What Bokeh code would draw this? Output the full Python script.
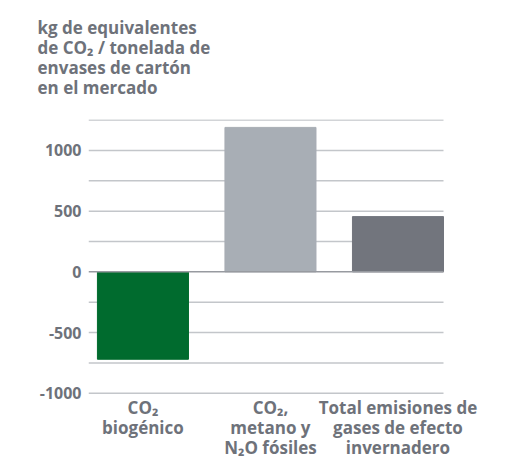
from bokeh.plotting import figure
from bokeh.models import FixedTicker, Range1d, ColumnDataSource, Label
from bokeh.embed import file_html
from bokeh.resources import INLINE

categories = ["CO\u2082\nbiogénico", "CO\u2082,\nmetano y\nN\u2082O fósiles", "Total emisiones de\ngases de efecto\ninvernadero"]
values = [-720, 1190, 455]
colors = ["#006b2e", "#a8aeb5", "#72757d"]
y_ticks = [-1000, -500, 0, 500, 1000]
y_tick_labels = ["-1000", "-500", "0", "500", "1000"]
grid_ticks = [-1000, -750, -500, -250, 250, 500, 750, 1000, 1250]
title_text = "kg de equivalentes\nde CO\u2082 / tonelada de\nenvases de cartón\nen el mercado"

FONT = "Open Sans"
TXT = "#6e727a"

# horizontal extent of the gridded area (in category units)
GRID_X0, GRID_X1 = -0.427, 2.357

xs = list(range(len(categories)))
src = ColumnDataSource(dict(x=xs, top=values, color=colors))

# the frame extends to the right and bottom edges of the canvas so that the
# category labels are not clipped; gridlines are drawn only over the chart area
x_range = Range1d(GRID_X0, 2.851)
y_range = Range1d(-1521, 1255)
p = figure(width=506, height=456, output_backend="svg", toolbar_location=None,
           x_range=x_range, y_range=y_range,
           min_border_left=88, min_border_right=0, min_border_top=119, min_border_bottom=0)
p.outline_line_color = None
p.background_fill_color = "white"
p.border_fill_color = "white"
p.xgrid.visible = False
p.ygrid.visible = False

grid_src = ColumnDataSource(dict(y=grid_ticks,
                                 x0=[GRID_X0] * len(grid_ticks),
                                 x1=[GRID_X1] * len(grid_ticks)))
p.segment(x0="x0", x1="x1", y0="y", y1="y", source=grid_src,
          line_color="#c3c6ca", line_width=1.5)

p.vbar(x="x", top="top", bottom=0, width=0.714, color="color", source=src)

zero_src = ColumnDataSource(dict(y=[0], x0=[GRID_X0], x1=[GRID_X1]))
p.segment(x0="x0", x1="x1", y0="y", y1="y", source=zero_src,
          line_color="#979aa0", line_width=1.5)

# title as a label anchored at the frame's top-left corner (side panel: not clipped)
p.add_layout(Label(x=GRID_X0, y=y_range.end, x_offset=-51, y_offset=104,
                   text=title_text, text_font=FONT, text_font_size="17px",
                   text_font_style="bold", text_color=TXT, text_align="left",
                   text_baseline="top", text_line_height=0.875), "above")

# category labels under the lowest gridline
for xi, cat in zip(xs, categories):
    p.add_layout(Label(x=xi, y=grid_ticks[0], y_offset=-3, text=cat,
                       text_font=FONT, text_font_size="17px", text_font_style="bold",
                       text_color=TXT, text_align="center", text_baseline="top",
                       text_line_height=0.86))

p.xaxis.visible = False

ax = p.yaxis
ax.axis_line_color = None
ax.major_tick_line_color = None
ax.minor_tick_line_color = None
ax.major_tick_out = 0
ax.major_tick_in = 0
ax.minor_tick_out = 0
ax.minor_tick_in = 0
ax.axis_label_standoff = 0
ax.major_label_text_font = FONT
ax.major_label_text_font_style = "bold"
ax.major_label_text_color = TXT
ax.ticker = FixedTicker(ticks=y_ticks)
ax.major_label_overrides = dict(zip(y_ticks, y_tick_labels))
ax.major_label_standoff = 7
ax.major_label_text_font_size = "16px"

open("out.html", "w").write(file_html(p, INLINE))
